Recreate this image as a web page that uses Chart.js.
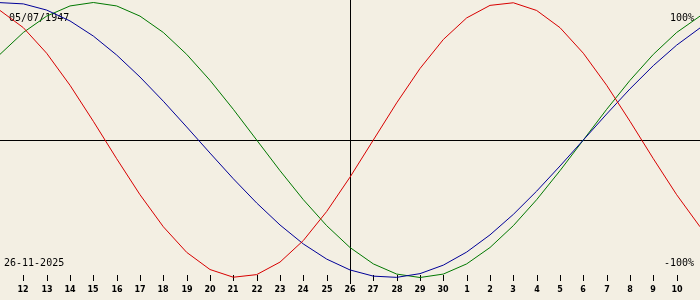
<!DOCTYPE html>
<html>
<head>
<meta charset="utf-8">
<script src="https://cdn.jsdelivr.net/npm/chart.js@4"></script>
<style>
  html, body { margin: 0; padding: 0; background: #f3efe3; }
  #wrap { width: 700px; height: 300px; }
</style>
</head>
<body>
<div id="wrap"><canvas id="bio" width="700" height="300"></canvas></div>
<script>
// Biorhythm, 11 nov -> 11 dec 2025 (one point per day), values in %
const birthDate = "05/07/1947";
const refDate = "26-11-2025";
const dayIndex = [-1, 0, 1, 2, 3, 4, 5, 6, 7, 8, 9, 10, 11, 12, 13, 14, 15, 16, 17, 18, 19, 20, 21, 22, 23, 24, 25, 26, 27, 28, 29];
const tickLabels = ["12", "13", "14", "15", "16", "17", "18", "19", "20", "21", "22", "23", "24", "25", "26", "27", "28", "29", "30",
  "1", "2", "3", "4", "5", "6", "7", "8", "9", "10"];
const refIndex = 14; // 26

const physical = [94.2, 81.7, 63.1, 39.8, 13.6, -13.6, -39.8, -63.1, -81.7, -94.2, -99.8, -97.9, -88.8, -73.1, -52.0, -27.0,
  0, 27.0, 52.0, 73.1, 88.8, 97.9, 99.8, 94.2, 81.7, 63.1, 39.8, 13.6, -13.6, -39.8, -63.1];
const emotional = [62.3, 78.2, 90.1, 97.5, 100, 97.5, 90.1, 78.2, 62.3, 43.4, 22.3, 0, -22.3, -43.4, -62.3, -78.2,
  -90.1, -97.5, -100, -97.5, -90.1, -78.2, -62.3, -43.4, -22.3, 0, 22.3, 43.4, 62.3, 78.2, 90.1];
const intellectual = [99.9, 99.0, 94.5, 86.6, 75.6, 61.8, 45.8, 28.2, 9.5, -9.5, -28.2, -45.8, -61.8, -75.6, -86.6, -94.5,
  -99.0, -99.9, -97.2, -91.0, -81.5, -69.0, -54.1, -37.2, -18.9, 0, 18.9, 37.2, 54.1, 69.0, 81.5];

const pts = (vals) => vals.map((v, i) => ({x: dayIndex[i], y: v}));

const frame = {
  id: 'frame',
  beforeDraw(chart) {
    const c = chart.ctx;
    c.save();
    c.fillStyle = '#f3efe3';
    c.fillRect(0, 0, chart.width, chart.height);
    c.restore();
  },
  beforeDatasetsDraw(chart) {
    const c = chart.ctx, xs = chart.scales.x, ys = chart.scales.y;
    const y0 = Math.round(ys.getPixelForValue(0)) + 0.5;
    const xr = Math.round(xs.getPixelForValue(refIndex)) + 0.5;
    c.save();
    c.strokeStyle = '#000';
    c.lineWidth = 1;
    c.beginPath();
    c.moveTo(0, y0); c.lineTo(chart.width, y0);
    c.moveTo(xr, 0); c.lineTo(xr, 284);
    tickLabels.forEach((t, i) => {
      const x = Math.round(xs.getPixelForValue(i)) + 0.5;
      c.moveTo(x, 275); c.lineTo(x, 281);
    });
    c.stroke();
    c.fillStyle = '#000';
    c.font = "bold 8px 'DejaVu Sans'";
    c.textAlign = 'center';
    c.textBaseline = 'alphabetic';
    tickLabels.forEach((t, i) => {
      c.fillText(t, Math.round(xs.getPixelForValue(i)), 292);
    });
    c.font = "10px 'DejaVu Sans Mono'";
    c.textAlign = 'left';
    c.fillText(birthDate, 9, 21);
    c.fillText(refDate, 4, 266);
    c.textAlign = 'right';
    c.fillText('100%', 694, 21);
    c.fillText('-100%', 694, 266);
    c.restore();
  }
};

new Chart(document.getElementById('bio'), {
  type: 'line',
  data: {
    datasets: [
      {label: 'Physique', data: pts(physical), borderColor: '#d80000', borderWidth: 1, pointRadius: 0, tension: 0},
      {label: 'Intellectuel', data: pts(intellectual), borderColor: '#000098', borderWidth: 1, pointRadius: 0, tension: 0},
      {label: 'Emotionnel', data: pts(emotional), borderColor: '#007800', borderWidth: 1, pointRadius: 0, tension: 0}
    ]
  },
  options: {
    responsive: false,
    animation: false,
    layout: {padding: 0},
    plugins: {legend: {display: false}, tooltip: {enabled: false}},
    scales: {
      x: {type: 'linear', min: -1, max: 29, display: false},
      y: {min: -116.36, max: 101.82, display: false}
    }
  },
  plugins: [frame]
});
</script>
</body>
</html>
